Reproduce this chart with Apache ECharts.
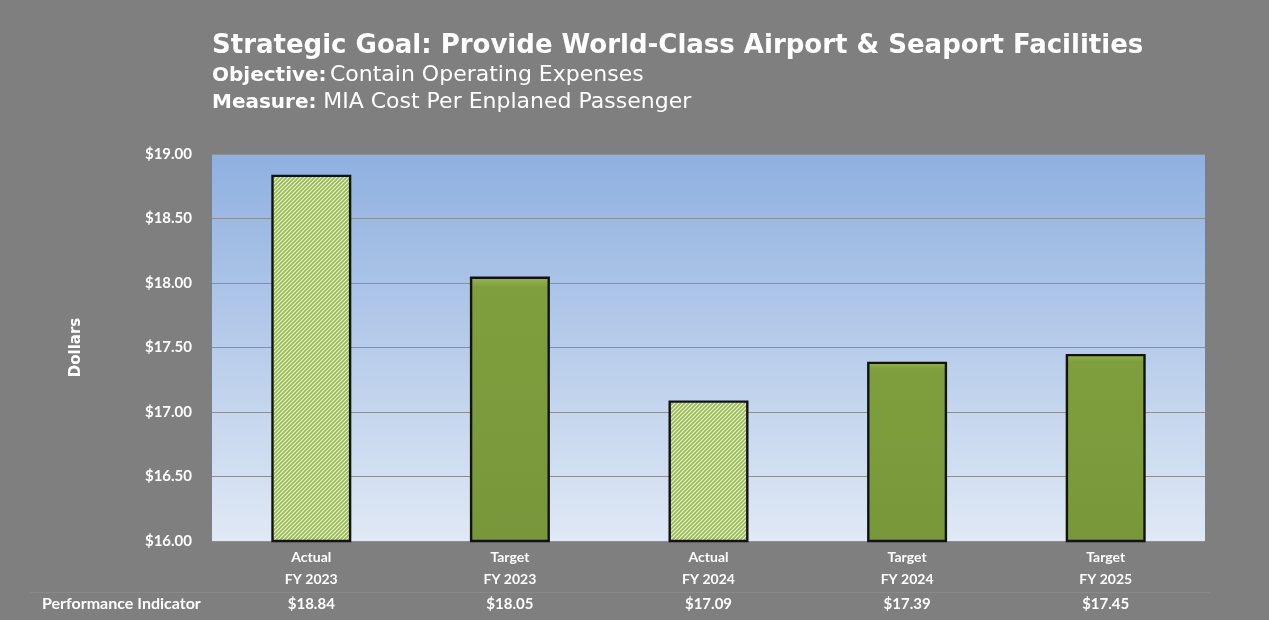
<!DOCTYPE html>
<html>
<head>
<meta charset="utf-8">
<title>MIA Cost Per Enplaned Passenger</title>
<script src="https://cdn.jsdelivr.net/npm/echarts@6/dist/echarts.min.js"></script>
<style>
  html, body { margin: 0; padding: 0; background: #7f7f7f; }
  #chart { width: 1269px; height: 620px; }
</style>
</head>
<body>
<div id="chart"></div>
<script>
// Bar kinds and fiscal years shown on the category axis
const kinds = ['Actual', 'Target', 'Actual', 'Target', 'Target'];
const periods = ['FY 2023', 'FY 2023', 'FY 2024', 'FY 2024', 'FY 2025'];
// Cost per enplaned passenger, in dollars
const values = [18.84, 18.05, 17.09, 17.39, 17.45];
// Value axis range
const yMin = 16, yMax = 19, yStep = 0.5;

const categories = kinds.map((k, i) => k + '\n' + periods[i]);

// Diagonal hatch used for the "Actual" bars
function hatchPattern() {
  const s = 4;
  const c = document.createElement('canvas');
  c.width = s; c.height = s;
  const g = c.getContext('2d');
  g.fillStyle = '#eef4dc';
  g.fillRect(0, 0, s, s);
  g.strokeStyle = '#98b856';
  g.lineWidth = 1.7;
  g.beginPath();
  g.moveTo(-1, s + 1); g.lineTo(s + 1, -1);
  g.moveTo(-1, 1); g.lineTo(1, -1);
  g.moveTo(s - 1, s + 1); g.lineTo(s + 1, s - 1);
  g.stroke();
  return c;
}
const hatch = { image: hatchPattern(), repeat: 'repeat' };

const solidFill = new echarts.graphic.LinearGradient(0, 0, 0, 1, [
  { offset: 0, color: '#97b653' },
  { offset: 0.04, color: '#7f9f3e' },
  { offset: 1, color: '#77973a' }
]);

const chart = echarts.init(document.getElementById('chart'), null, { renderer: 'canvas' });

const labelFont = 'Lato, "Open Sans", sans-serif';
const subFont = '"DejaVu Sans", Verdana, sans-serif';

chart.setOption({
  backgroundColor: '#7f7f7f',
  animation: false,
  graphic: [
    {
      type: 'text', left: 212, top: 33,
      style: {
        text: 'Strategic Goal: Provide World-Class Airport & Seaport Facilities',
        fill: '#ffffff', font: 'bold 26px "DejaVu Sans", Verdana, sans-serif'
      }
    },
    {
      type: 'text', x: 212, y: 64,
      style: {
        text: '{b|Objective:} {r|Contain Operating Expenses}',
        rich: {
          b: { fill: '#ffffff', font: 'bold 20px ' + subFont, verticalAlign: 'bottom' },
          r: { fill: '#ffffff', font: '22px ' + subFont, verticalAlign: 'bottom' }
        }
      }
    },
    {
      type: 'text', x: 212, y: 91,
      style: {
        text: '{b|Measure:}  {r|MIA Cost Per Enplaned Passenger}',
        rich: {
          b: { fill: '#ffffff', font: 'bold 20px ' + subFont, verticalAlign: 'bottom' },
          r: { fill: '#ffffff', font: '22px ' + subFont, verticalAlign: 'bottom' }
        }
      }
    },
    {
      type: 'text', left: 42, top: 596,
      style: {
        text: 'Performance Indicator',
        fill: '#ffffff', font: 'bold 16px ' + labelFont
      }
    },
    {
      type: 'rect', left: 30, top: 592,
      shape: { width: 1180, height: 1 },
      style: { fill: 'rgba(255,255,255,0.08)' }
    }
  ],
  grid: {
    left: 212, right: 64, top: 154, bottom: 79,
    show: true, borderWidth: 0,
    backgroundColor: new echarts.graphic.LinearGradient(0, 0, 0, 1, [
      { offset: 0, color: '#8fb0e0' },
      { offset: 1, color: '#e0e9f5' }
    ])
  },
  xAxis: {
    type: 'category',
    data: categories,
    axisLine: { show: false },
    axisTick: { show: false },
    axisLabel: {
      interval: 0,
      margin: 5,
      formatter: (v, i) => {
        const [k, p] = v.split('\n');
        return '{a|' + k + '}\n{a|' + p + '}\n{v|$' + values[i].toFixed(2) + '}';
      },
      rich: {
        a: { color: '#ffffff', fontFamily: labelFont, fontWeight: 'bold', fontSize: 14, lineHeight: 22 },
        v: { color: '#ffffff', fontFamily: labelFont, fontWeight: 'bold', fontSize: 15, lineHeight: 29 }
      }
    }
  },
  yAxis: {
    type: 'value',
    min: yMin, max: yMax, interval: yStep,
    name: 'Dollars',
    nameLocation: 'middle',
    nameGap: 128,
    nameRotate: 90,
    nameTextStyle: { color: '#ffffff', fontWeight: 'bold', fontSize: 15, fontFamily: '"DejaVu Sans", Verdana, sans-serif' },
    axisLine: { show: false },
    axisTick: { show: false },
    axisLabel: {
      margin: 20,
      color: '#ffffff', fontWeight: 'bold', fontSize: 15, fontFamily: labelFont,
      formatter: v => '$' + v.toFixed(2)
    },
    splitLine: { lineStyle: { color: '#8a8f96', width: 1.2 } }
  },
  series: [{
    type: 'bar',
    barWidth: 80,
    data: values.map((v, i) => ({
      value: v,
      itemStyle: {
        color: kinds[i] === 'Actual' ? hatch : solidFill,
        borderColor: '#121212',
        borderWidth: 2.4
      }
    }))
  }]
});
</script>
</body>
</html>
